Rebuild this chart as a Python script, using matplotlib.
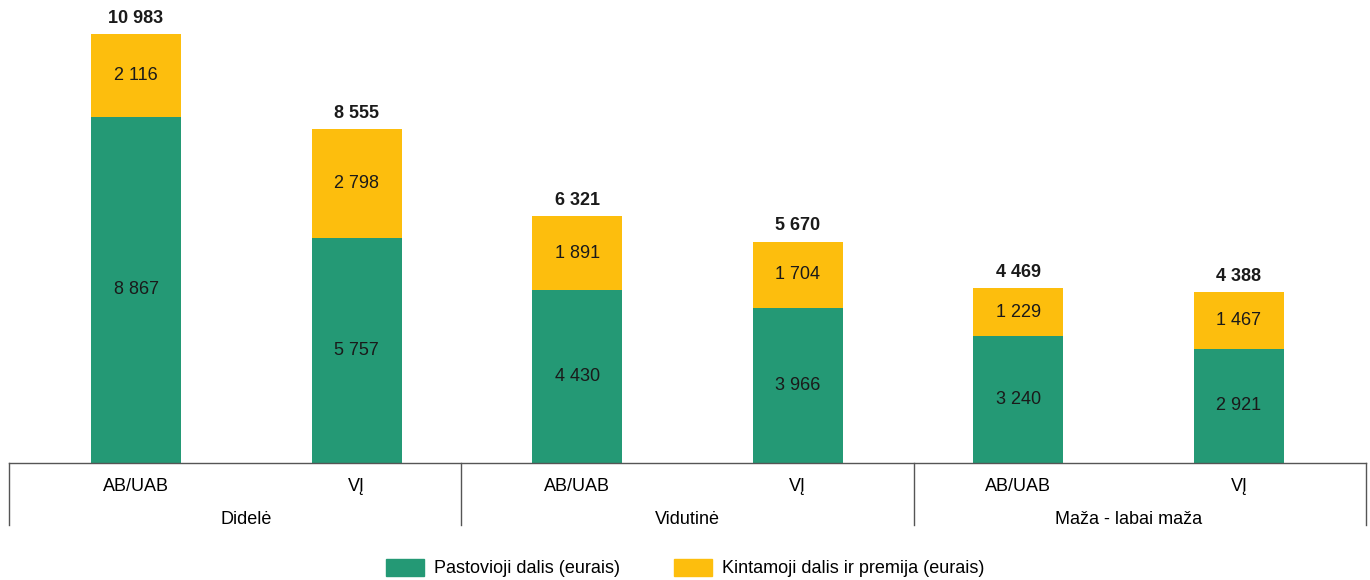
import matplotlib
matplotlib.use("Agg")
import matplotlib.pyplot as plt
from matplotlib.patches import Patch

groups = ["Didelė", "Vidutinė", "Maža - labai maža"]
types = ["AB/UAB", "VĮ", "AB/UAB", "VĮ", "AB/UAB", "VĮ"]
fixed = [8867, 5757, 4430, 3966, 3240, 2921]
variable = [2116, 2798, 1891, 1704, 1229, 1467]
totals = [10983, 8555, 6321, 5670, 4469, 4388]
series_names = ["Pastovioji dalis (eurais)", "Kintamoji dalis ir premija (eurais)"]

GREEN = "#249975"
YELLOW = "#FDBE0D"

plt.rcParams["font.family"] = ["Liberation Sans", "DejaVu Sans"]
FS = 13

def fmt(v):
    return f"{v:,}".replace(",", " ")

fig = plt.figure(figsize=(13.7, 5.8), dpi=100)
ax = fig.add_axes([9/1370, 117/580, 1357/1370, 463/580])
x = list(range(len(types)))
w = 90/220.6
ax.bar(x, fixed, width=w, color=GREEN, label=series_names[0], zorder=2)
ax.bar(x, variable, width=w, bottom=fixed, color=YELLOW, label=series_names[1], zorder=2)

for i in x:
    ax.text(i, fixed[i]/2, fmt(fixed[i]), ha="center", va="center", fontsize=FS, color="#1a1a1a")
    ax.text(i, fixed[i] + variable[i]/2, fmt(variable[i]), ha="center", va="center", fontsize=FS, color="#1a1a1a")
    ax.text(i, totals[i] + 180, fmt(totals[i]), ha="center", va="bottom", fontsize=FS, fontweight="bold", color="#1a1a1a")

ax.set_xlim(-0.576, 5.576)
ax.set_ylim(0, 11853)
for s in ["top", "right", "left"]:
    ax.spines[s].set_visible(False)
ax.spines["bottom"].set_color("#555555")
ax.spines["bottom"].set_linewidth(1)
ax.set_yticks([])
ax.set_xticks(x)
ax.set_xticklabels(types, fontsize=FS)
ax.tick_params(axis="x", length=0, pad=11)

trans = ax.get_xaxis_transform()
for gi, g in enumerate(groups):
    ax.text(gi*2 + 0.5, -56/463, g, transform=trans, ha="center", va="center", fontsize=FS, clip_on=False)
for fx in [0, 1/3, 2/3, 1]:
    ax.plot([fx, fx], [0, -62/463], transform=ax.transAxes, color="#555555", lw=1, clip_on=False)

handles = [Patch(color=GREEN), Patch(color=YELLOW)]
fig.legend(handles, series_names, loc="center", bbox_to_anchor=(0.5, 12/580), ncol=2,
           frameon=False, fontsize=FS, handlelength=2.1, handleheight=1.1, columnspacing=3.0, handletextpad=0.55)

fig.savefig("out.png", dpi=100)
